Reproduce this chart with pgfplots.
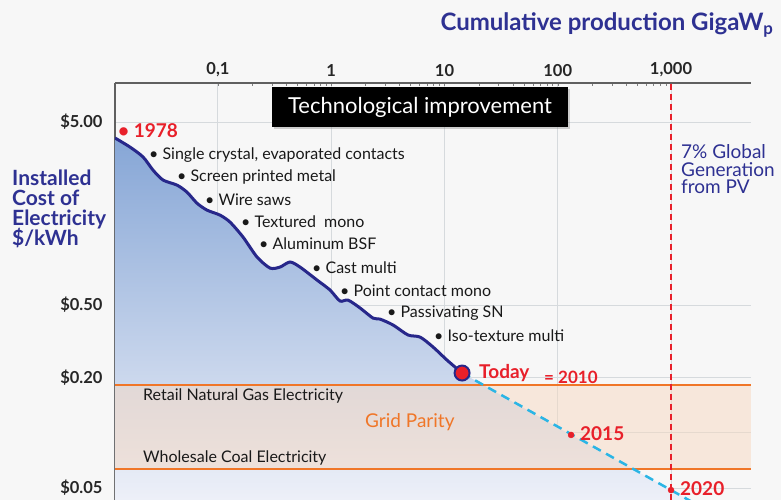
\documentclass[border=0pt]{standalone}
\usepackage{pgfplots}
\pgfplotsset{compat=1.18}
\usepackage{fontspec}
\setmainfont{Lato}
\usetikzlibrary{shadows}
\definecolor{dblue}{HTML}{2E3192}
\definecolor{navy}{HTML}{27278A}
\definecolor{pvred}{HTML}{E8202A}
\definecolor{porange}{HTML}{F07628}
\definecolor{bg}{HTML}{F7F7F7}
\definecolor{gridc}{HTML}{D6DADD}
\definecolor{cyanl}{HTML}{2BB5E5}
\definecolor{axgray}{HTML}{606060}
\definecolor{peach}{HTML}{F7D9C1}
\definecolor{filltop}{HTML}{86A6D6}
\definecolor{fillbot}{HTML}{F0F2F9}
\newcommand{\fs}[1]{\fontsize{#1}{#1}\selectfont}
\begin{document}
\begin{tikzpicture}
\fill[bg] (-115pt,0pt) rectangle (666pt,500pt);
\begin{axis}[
  at={(0,0)}, anchor=south west,
  scale only axis, width=636pt, height=417pt,
  xmode=log, ymode=log,
  xmin=0.01232, xmax=5082, ymin=0.0430, ymax=8.17,
  axis x line*=top, axis y line*=left,
  axis line style={-, line width=2pt, color=axgray},
  xtick={0.1,1,10,100,1000},
  xticklabels={{0,1},1,10,100,{1,000}},
  ytick={0.05,0.1,0.2,0.5,5},
  yticklabels={\$0.05,,\$0.20,\$0.50,\$5.00},
  minor xtick={}, minor ytick={},
  major tick length=0pt,
  grid=major,
  major grid style={gridc, line width=1pt},
  xticklabel style={font=\fs{16.5}\bfseries, text=black!85, yshift=3pt},
  yticklabel style={font=\fs{16.5}\bfseries, text=black!85, xshift=-9pt},
]
% fill under curve and projection
\addplot[draw=none, top color=filltop, bottom color=fillbot] coordinates {
(0.01232,4.09)(0.0167,3.65)(0.0218,3.22)(0.0267,2.73)(0.0327,2.41)(0.0435,2.26)
(0.0532,2.07)(0.0653,1.80)(0.080,1.65)(0.1041,1.55)(0.1276,1.42)(0.1663,1.176)
(0.221,0.915)(0.288,0.796)(0.3528,0.806)(0.4323,0.859)(0.53,0.806)(0.748,0.685)
(0.975,0.604)(1.194,0.526)(1.406,0.532)(1.794,0.482)(2.337,0.424)(2.69,0.419)
(3.51,0.389)(4.76,0.343)(6.08,0.334)(7.91,0.295)(10.52,0.250)(14.29,0.2125)
(131,0.0975)(1000,0.0487)(2000,0.0383)(2000,0.0430)(0.01232,0.0430)} --cycle;
% grid parity band
\addplot[draw=none, fill=peach, fill opacity=0.5] coordinates {
(0.01232,0.0635)(5082,0.0635)(5082,0.1828)(0.01232,0.1828)} --cycle;
\addplot[porange, line width=2pt] coordinates {(0.01232,0.1828)(5082,0.1828)};
\addplot[porange, line width=2pt] coordinates {(0.01232,0.0635)(5082,0.0635)};
% 7% line
\addplot[pvred, line width=1.6pt, dash pattern=on 6pt off 4pt] coordinates {(1000,0.0430)(1000,8.17)};
% projection
\addplot[cyanl, line width=2.5pt, dash pattern=on 9pt off 6pt] coordinates {(14.29,0.2125)(2000,0.0383)};
% learning curve
\addplot[navy, line width=3pt, smooth, tension=0.45] coordinates {
(0.01232,4.09)(0.0167,3.65)(0.0218,3.22)(0.0267,2.73)(0.0327,2.41)(0.0435,2.26)
(0.0532,2.07)(0.0653,1.80)(0.080,1.65)(0.1041,1.55)(0.1276,1.42)(0.1663,1.176)
(0.221,0.915)(0.288,0.796)(0.3528,0.806)(0.4323,0.859)(0.53,0.806)(0.748,0.685)
(0.975,0.604)(1.194,0.526)(1.406,0.532)(1.794,0.482)(2.337,0.424)(2.69,0.419)
(3.51,0.389)(4.76,0.343)(6.08,0.334)(7.91,0.295)(10.52,0.250)(14.29,0.2125)};
% markers
\addplot[only marks, mark=*, mark size=3pt, pvred] coordinates {(131,0.0975)(1000,0.0487)};
\addplot[only marks, mark=*, mark size=7.5pt, mark options={fill=pvred, draw=navy, line width=2pt}] coordinates {(14.29,0.2125)};
\end{axis}
\begin{scope}[x=1pt, y=-1pt, shift={(-115pt,500pt)}]
% title
\node[anchor=east, text=dblue, font=\fs{24}\bfseries] at (777,25) {Cumulative production GigaW\textsubscript{p}};
% left label
\node[anchor=north west, text=dblue, font=\fs{21}\bfseries, align=left, inner sep=0pt] at (12,170) {Installed\\[-1pt]Cost of\\[-1pt]Electricity\\[-1pt]\$/kWh};
% technological improvement box
\node[fill=black, text=white, minimum width=296pt, minimum height=40pt, inner sep=0pt, font=\fs{22},
      drop shadow={opacity=0.35, shadow xshift=2pt, shadow yshift=-2pt}] at (420,107) {Technological improvement};
% annotations
\begin{scope}[every node/.style={anchor=west, inner sep=0pt, font=\fs{16}, text=black!90}]
\node at (149,155) {• Single crystal, evaporated contacts};
\node at (177,177) {• Screen printed metal};
\node at (205,200) {• Wire saws};
\node at (241,222) {• Textured\ \ mono};
\node at (259,244) {• Aluminum BSF};
\node at (312,268) {• Cast multi};
\node at (340,291) {• Point contact mono};
\node at (387,313) {• Passivating SN};
\node at (434,336) {• Iso-texture multi};
\node at (143,396) {Retail Natural Gas Electricity};
\node at (143,458) {Wholesale Coal Electricity};
\end{scope}
\node[anchor=west, inner sep=0pt, text=porange, font=\fs{19}] at (365,422) {Grid Parity};
\node[anchor=west, inner sep=0pt, text=pvred, font=\fs{19}\bfseries] at (118,131) {• 1978};
\node[anchor=west, inner sep=0pt, text=pvred, font=\fs{19}\bfseries] at (479,373) {Today};
\node[anchor=west, inner sep=0pt, text=pvred, font=\fs{17}\bfseries] at (544,377) {= 2010};
\node[anchor=west, inner sep=0pt, text=pvred, font=\fs{19}\bfseries] at (580,434) {2015};
\node[anchor=west, inner sep=0pt, text=pvred, font=\fs{19}\bfseries] at (680,489) {2020};
\begin{scope}[every node/.style={anchor=base west, inner sep=0pt, text=dblue, font=\fs{19}}]
\node at (681,159) {7\% Global};
\node at (681,176.5) {Generation};
\node at (681,194) {from PV};
\end{scope}
\end{scope}
\pgfresetboundingbox
\path[use as bounding box] (-115pt,0pt) rectangle (666pt,500pt);
\end{tikzpicture}
\end{document}
